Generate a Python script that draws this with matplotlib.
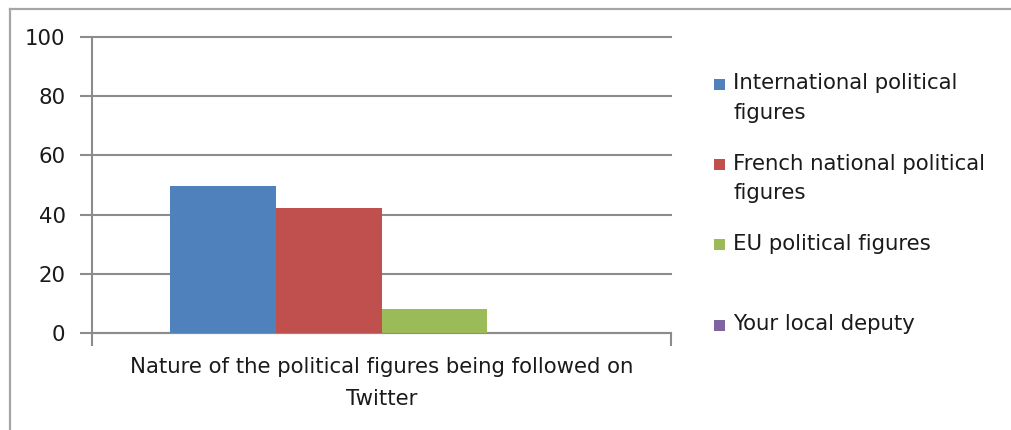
import matplotlib
matplotlib.use("Agg")
import matplotlib.pyplot as plt
from matplotlib.lines import Line2D
from matplotlib.patches import Rectangle

plt.rcParams['font.family'] = ['DejaVu Sans']

# data
category = "Nature of the political figures being followed on\nTwitter"
series = ["International political\nfigures",
          "French national political\nfigures",
          "EU political figures",
          "Your local deputy"]
values = [49.5, 42.2, 8.2, 0]
colors = ["#4F81BD", "#C0504D", "#9BBB59", "#8064A2"]
yticks = [0, 20, 40, 60, 80, 100]

W, H = 1011, 430
fig = plt.figure(figsize=(W / 100, H / 100), dpi=100)
ax = fig.add_axes([92 / W, 1 - 333 / H, (671 - 92) / W, (333 - 37) / H])

grid_c = "#8C8C8C"
text_c = "#1A1A1A"
fs = 15.3

bw = 0.183
n = len(values)
for i, (v, c) in enumerate(zip(values, colors)):
    x = (i - (n - 1) / 2) * bw
    ax.bar(x, v, width=bw, color=c, zorder=3)

ax.set_xlim(-0.5, 0.5)
ax.set_ylim(0, 100)
ax.set_yticks(yticks)
ax.set_yticklabels([str(t) for t in yticks], fontsize=fs, color=text_c)
ax.yaxis.grid(True, color=grid_c, linewidth=1.5)
for gl in ax.get_ygridlines():
    gl.set_clip_on(False)
ax.set_axisbelow(True)
ax.tick_params(axis='y', length=9, width=1.5, color=grid_c, pad=10)

# x axis: ticks only at both ends
ax.set_xticks([-0.5, 0.5])
ax.set_xticklabels(["", ""])
ax.tick_params(axis='x', length=9, width=1.5, color=grid_c, direction='out')
ax.text(0.5, -0.08, category, transform=ax.transAxes, ha='center', va='top',
        multialignment='center', fontsize=fs, color=text_c, linespacing=1.75)

for s in ['top', 'right']:
    ax.spines[s].set_visible(False)
for s in ['left', 'bottom']:
    ax.spines[s].set_color(grid_c)
    ax.spines[s].set_linewidth(1.5)

# legend drawn by hand so every entry gets the same slot height
y0 = 84
step = 80.5
for i, (lab, c) in enumerate(zip(series, colors)):
    yc = y0 + i * step
    fig.patches.append(Rectangle((714 / W, 1 - (yc + 5.5) / H), 11 / W, 11 / H,
                                 transform=fig.transFigure, facecolor=c,
                                 edgecolor='none'))
    fig.text(733 / W, 1 - (yc - 11) / H, lab, ha='left', va='top',
             fontsize=fs, color=text_c, linespacing=1.62)

# partial outer frame (top and left edges)
fig.lines.append(Line2D([9.5 / W, 1], [1 - 8.5 / H, 1 - 8.5 / H],
                        transform=fig.transFigure, color="#A6A6A6", lw=1.6))
fig.lines.append(Line2D([9.5 / W, 9.5 / W], [0, 1 - 8.5 / H],
                        transform=fig.transFigure, color="#A6A6A6", lw=1.6))

fig.savefig("out.png", dpi=100)
